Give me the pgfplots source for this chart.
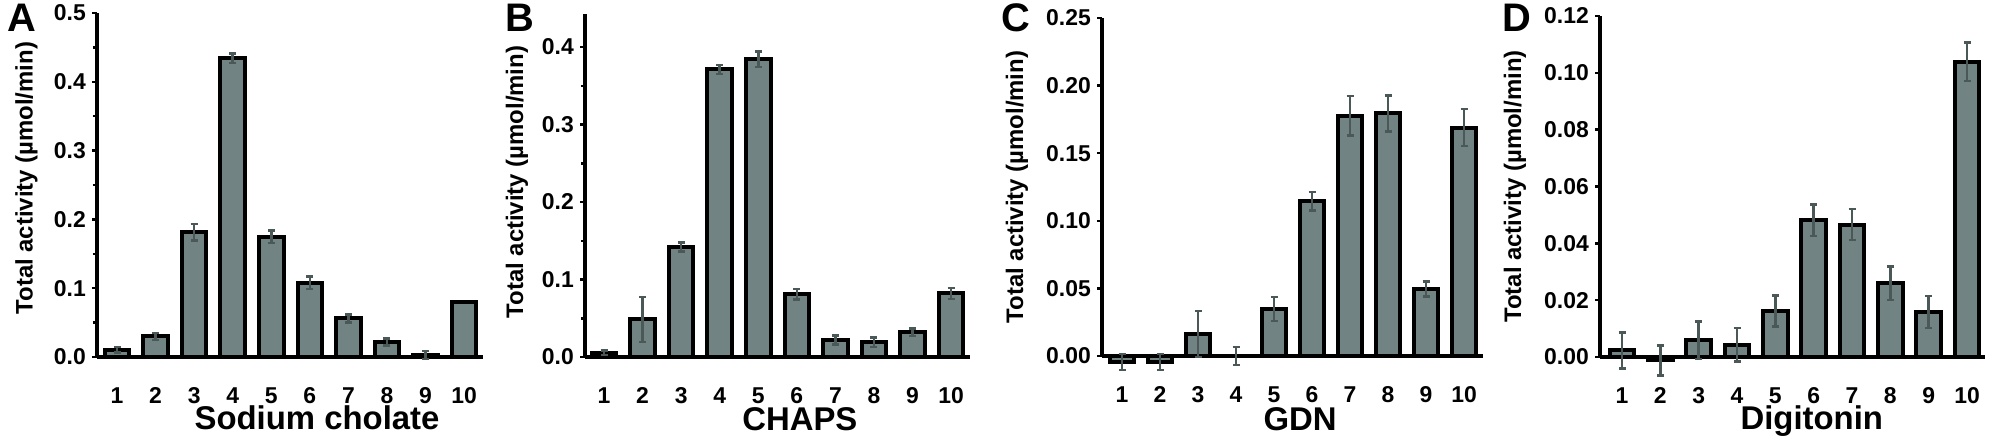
\documentclass[border=0pt]{standalone}
\usepackage{pgfplots}
\pgfplotsset{compat=1.18}
\usepackage{fontspec}
\setmainfont{Liberation Sans}
\definecolor{barcol}{HTML}{718383}
\definecolor{errcol}{HTML}{4B5858}
\pgfplotsset{
  panel/.style={
    scale only axis,
    axis x line*=bottom, axis y line*=left,
    axis line style={line width=3.5bp, black},
    ymin=0, clip=false,
    ybar, bar width=0.64,
    xtick={1,...,10},
    x tick style={draw=none},
    major tick length=5bp, minor tick length=4bp,
    tick align=outside,
    y tick style={line width=2.5bp, black},
    xticklabel style={font=\fontsize{23}{24}\selectfont\bfseries, anchor=base, inner sep=0pt, yshift=-41bp},
    yticklabel style={font=\fontsize{23}{24}\selectfont\bfseries, anchor=east, inner sep=0pt, xshift=-6bp},
    /pgf/number format/assume math mode=true,
    ylabel={Total activity (µmol/min)},
    ylabel style={font=\fontsize{24}{24}\selectfont\bfseries, anchor=center, rotate=0},
    xlabel style={font=\fontsize{33}{34}\selectfont\bfseries, anchor=base},
  },
  bars/.style={fill=barcol, draw=black, line width=4bp, bar shift=0pt},
  errs/.style={error bars/.cd, y dir=both, y explicit,
    error bar style={line width=2.5bp, color=errcol, solid},
    error mark options={rotate=90, mark size=3.5bp, line width=2.5bp, color=errcol}},
}
\begin{document}
\begin{tikzpicture}
\useasboundingbox (0,0) rectangle (1992bp,440bp);
% Panel A
\begin{axis}[panel, at={(97bp,83bp)}, anchor=south west, width=386bp, height=344bp,
  xmin=0.481, xmax=10.49, ymax=0.5, ytick={0,0.1,...,0.5}, minor y tick num=1,
  yticklabel style={/pgf/number format/.cd, fixed, fixed zerofill, precision=1},
  xlabel={Sodium cholate},
  xlabel style={at={(axis description cs:0.57,-0.212)}},
  ylabel style={at={(axis description cs:-0.183,0.52)}}]
\addplot[bars, errs] coordinates {
 (1,0.0105) +- (0,0.004)
 (2,0.030) +- (0,0.005)
 (3,0.181) +- (0,0.012)
 (4,0.434) +- (0,0.007)
 (5,0.175) +- (0,0.009)
 (6,0.108) +- (0,0.009)
 (7,0.056) +- (0,0.006)
 (8,0.022) +- (0,0.005)
 (9,0.003) +- (0,0.006)
};
\addplot[bars] coordinates {(10,0.080)};
\end{axis}
% Panel B
\begin{axis}[panel, at={(585bp,83bp)}, anchor=south west, width=385bp, height=343bp,
  xmin=0.507, xmax=10.49, ymax=0.4426, ytick={0,0.1,...,0.4}, minor y tick num=1,
  yticklabel style={/pgf/number format/.cd, fixed, fixed zerofill, precision=1},
  xlabel={CHAPS},
  xlabel style={at={(axis description cs:0.558,-0.213)}},
  ylabel style={at={(axis description cs:-0.177,0.51)}}]
\addplot[bars, errs] coordinates {
 (1,0.0056) +- (0,0.003)
 (2,0.0486) +- (0,0.029)
 (3,0.142) +- (0,0.006)
 (4,0.371) +- (0,0.006)
 (5,0.3845) +- (0,0.010)
 (6,0.081) +- (0,0.007)
 (7,0.022) +- (0,0.006)
 (8,0.019) +- (0,0.006)
 (9,0.032) +- (0,0.005)
 (10,0.082) +- (0,0.007)
};
\end{axis}
% Panel C
\begin{axis}[panel, at={(1102bp,84bp)}, anchor=south west, width=381bp, height=338bp,
  xmin=0.474, xmax=10.5, ymax=0.25, ytick={0,0.05,...,0.25},
  yticklabel style={/pgf/number format/.cd, fixed, fixed zerofill, precision=2},
  xlabel={GDN},
  xlabel style={at={(axis description cs:0.52,-0.219)}},
  ylabel style={at={(axis description cs:-0.223,0.50)}}]
\addplot[bars, errs] coordinates {
 (1,-0.0045) +- (0,0.006)
 (2,-0.0045) +- (0,0.006)
 (3,0.0163) +- (0,0.017)
 (4,0.0) +- (0,0.0065)
 (5,0.0348) +- (0,0.009)
 (6,0.1145) +- (0,0.0068)
 (7,0.1777) +- (0,0.0147)
 (8,0.1794) +- (0,0.0134)
 (9,0.0496) +- (0,0.0056)
 (10,0.169) +- (0,0.0137)
};
\end{axis}
% Panel D
\begin{axis}[panel, at={(1600bp,83bp)}, anchor=south west, width=385bp, height=341bp,
  xmin=0.426, xmax=10.47, ymax=0.12, ytick={0,0.02,...,0.12},
  yticklabel style={/pgf/number format/.cd, fixed, fixed zerofill, precision=2},
  xlabel={Digitonin},
  xlabel style={at={(axis description cs:0.55,-0.214)}},
  ylabel style={at={(axis description cs:-0.221,0.50)}}]
\addplot[bars, errs] coordinates {
 (1,0.0023) +- (0,0.0064)
 (2,-0.0012) +- (0,0.0053)
 (3,0.0059) +- (0,0.0066)
 (4,0.0043) +- (0,0.0059)
 (5,0.0162) +- (0,0.0054)
 (6,0.0481) +- (0,0.0055)
 (7,0.0466) +- (0,0.0054)
 (8,0.026) +- (0,0.0059)
 (9,0.0158) +- (0,0.0056)
 (10,0.1039) +- (0,0.0068)
};
\end{axis}
\node[anchor=base west, font=\fontsize{40}{40}\selectfont\bfseries, inner sep=0pt] at (7bp,408bp) {A};
\node[anchor=base west, font=\fontsize{40}{40}\selectfont\bfseries, inner sep=0pt] at (505bp,408bp) {B};
\node[anchor=base west, font=\fontsize{40}{40}\selectfont\bfseries, inner sep=0pt] at (1001bp,408bp) {C};
\node[anchor=base west, font=\fontsize{40}{40}\selectfont\bfseries, inner sep=0pt] at (1502bp,408bp) {D};
\end{tikzpicture}
\end{document}
